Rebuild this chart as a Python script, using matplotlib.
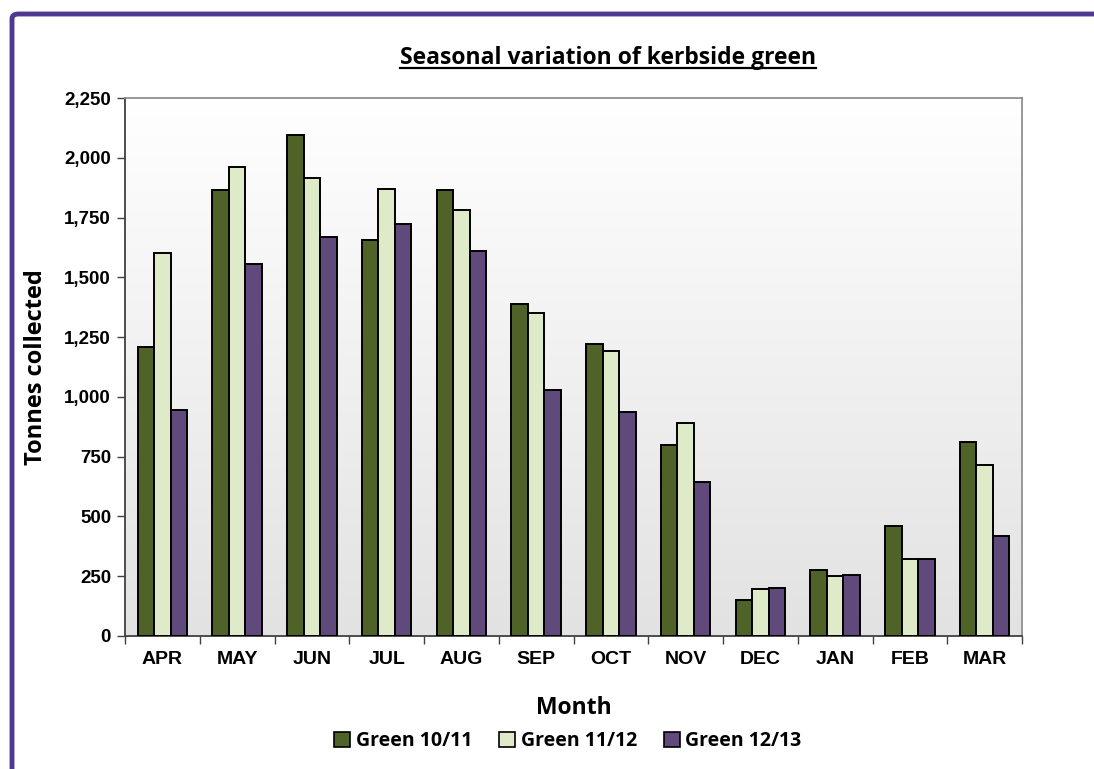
#!/usr/bin/env python3
# -*- coding: utf-8 -*-

import numpy as np
import matplotlib
matplotlib.use("Agg")
import matplotlib.pyplot as plt
from matplotlib.patches import FancyBboxPatch, Patch
from matplotlib.lines import Line2D
from matplotlib.ticker import FuncFormatter, MultipleLocator

# 数据
months = ["APR", "MAY", "JUN", "JUL", "AUG", "SEP", "OCT", "NOV", "DEC", "JAN", "FEB", "MAR"]
green_1011 = [1210, 1865, 2095, 1655, 1865, 1390, 1220, 800, 150, 275, 460, 810]
green_1112 = [1600, 1960, 1915, 1870, 1780, 1350, 1190, 890, 195, 250, 320, 715]
green_1213 = [945, 1555, 1670, 1725, 1610, 1030, 935, 645, 200, 255, 320, 420]
series_names = ["Green 10/11", "Green 11/12", "Green 12/13"]

colors = ["#4f6228", "#dfeac8", "#604a7b"]
title_font = "Open Sans"
tick_font = "Liberation Sans"

fig = plt.figure(figsize=(10.94, 7.69), dpi=100)
fig.patch.set_facecolor("white")

# 紫色边框
border = FancyBboxPatch((12 / 1094, -0.1), 1.2, 1.1 - 14 / 769,
                        boxstyle="round,pad=0,rounding_size=0.006",
                        transform=fig.transFigure, facecolor="none",
                        edgecolor="#4e3892", linewidth=3.5, zorder=10)
fig.patches.append(border)

ax = fig.add_axes([125 / 1094, 1 - 636 / 769, (1022 - 125) / 1094, (636 - 98) / 769])

# 渐变背景（上白下灰）
grad = np.linspace(0.0, 1.0, 256).reshape(-1, 1)
ax.imshow(grad, extent=[0, 1, 0, 1], transform=ax.transAxes, aspect="auto",
          cmap=matplotlib.colors.LinearSegmentedColormap.from_list("g", ["#ffffff", "#e2e2e2"]),
          vmin=0, vmax=1, zorder=0)

x = np.arange(len(months))
w = 0.22
for i, (vals, c) in enumerate(zip([green_1011, green_1112, green_1213], colors)):
    ax.bar(x + (i - 1) * w, vals, width=w, color=c, edgecolor="black",
           linewidth=1.4, zorder=3)

ax.set_xlim(-0.5, len(months) - 0.5)
ax.set_ylim(0, 2250)
ax.yaxis.set_major_locator(MultipleLocator(250))
ax.yaxis.set_major_formatter(FuncFormatter(lambda v, p: f"{int(v):,}"))

ax.set_xticks(x)
ax.set_xticklabels(months, fontfamily=tick_font, fontweight="bold", fontsize=14)
ax.set_xticks(np.arange(-0.5, len(months)), minor=True)
ax.tick_params(axis="x", which="major", length=0, pad=11)
ax.tick_params(axis="x", which="minor", length=6, width=1, color="#404040", direction="out")
ax.tick_params(axis="y", length=6, width=1, color="#404040", direction="out", pad=4)
for lab in ax.get_yticklabels():
    lab.set_fontfamily(tick_font)
    lab.set_fontweight("bold")
    lab.set_fontsize(13.5)

ax.spines["left"].set_color("#404040")
ax.spines["bottom"].set_color("#404040")
ax.spines["top"].set_color("#909090")
ax.spines["right"].set_color("#909090")
for s in ax.spines.values():
    s.set_linewidth(1.3)

ax.set_ylabel("Tonnes collected", fontfamily=title_font, fontweight="bold", fontsize=17, labelpad=12)
ax.set_xlabel("Month", fontfamily=title_font, fontweight="bold", fontsize=16.5, labelpad=20)

# 标题（带下划线）
title = fig.text(608 / 1094, 1 - 58 / 769, "Seasonal variation of kerbside green",
                 ha="center", va="center", fontfamily=title_font, fontweight="bold", fontsize=16.5)
fig.canvas.draw()
bb = title.get_window_extent().transformed(fig.transFigure.inverted())
fig.add_artist(Line2D([bb.x0, bb.x1], [bb.y0 + 0.002, bb.y0 + 0.002],
                      transform=fig.transFigure, color="black", linewidth=1.6))

# 图例
handles = [Patch(facecolor=c, edgecolor="black", linewidth=1.2) for c in colors]
fig.legend(handles, series_names, loc="center", bbox_to_anchor=(568 / 1094, 1 - 741 / 769),
           ncol=3, frameon=False, handlelength=0.8, handleheight=0.8, handletextpad=0.3,
           columnspacing=1.4, prop={"family": title_font, "size": 14, "weight": "bold"})

fig.savefig("out.png", dpi=100)
